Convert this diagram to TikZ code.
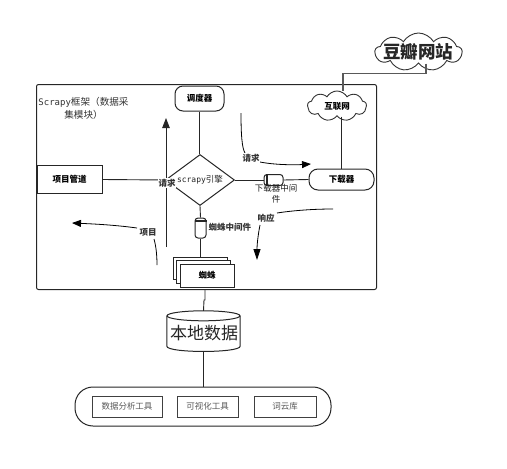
\documentclass[tikz,border=0pt]{standalone}
\usepackage{fontspec}
\setmainfont{Noto Sans CJK SC}
\newfontfamily\latinm{DejaVu Sans Mono}
\usetikzlibrary{shapes.geometric,shapes.symbols,arrows.meta}
\newcommand{\lbsize}{\fontsize{8.5pt}{10pt}\selectfont}
\tikzset{
  every picture/.style={x=1pt,y=-1pt},
  line/.style={draw=black!85,line width=0.9pt},
  boldbox/.style={draw=black!85,line width=1pt,fill=white,font=\lbsize\bfseries,inner sep=0pt},
  lbl/.style={font=\lbsize,inner sep=0.5pt,text=black!80},
  blbl/.style={lbl,fill=white,font=\lbsize\bfseries},
  toolbox/.style={draw=black!75,line width=0.9pt,fill=white,inner sep=0pt,font=\lbsize,text=black!65},
  curve/.style={draw=black,line width=0.8pt},
  head/.style={-{Triangle[length=9pt,width=7pt]}},
  heads/.style={-{Triangle[length=11pt,width=7pt]}},
  cloudn/.style={cloud,cloud puffs=9,cloud puff arc=120,aspect=2,draw=black!80,line width=0.9pt,fill=white,inner sep=0pt},
}
\begin{document}
\begin{tikzpicture}
\useasboundingbox (0,0) rectangle (507,469);
% frame
\node[draw=black!85,line width=1pt,rounded corners=2pt,minimum width=340pt,minimum height=205pt,inner sep=0pt,anchor=north west] (frame) at (36,84) {};
\coordinate (framedb) at (205,289);
\coordinate (jog1) at (205,300);
\coordinate (jog2) at (204,300);
% nodes
\node[boldbox,rounded corners=8pt,minimum width=49pt,minimum height=25pt] (sched) at (199.5,98.5) {调度器};
\node[boldbox,diamond,minimum width=69pt,minimum height=51pt,aspect=1.35,font=\lbsize] (engine) at (200,180) {};
\node[boldbox,minimum width=65pt,minimum height=28pt] (pipe) at (69.5,179.5) {项目管道};
\node[cloudn,minimum width=59pt,minimum height=30pt,font=\lbsize] (net) at (337,106) {};
\node[cloudn,minimum width=87pt,minimum height=38pt] (douban) at (418.5,52) {};
\node[boldbox,rounded corners=9pt,minimum width=65pt,minimum height=21pt] (down) at (341.5,179.5) {下载器};
\node[draw=black!85,line width=1pt,fill=white,rounded corners=3pt,minimum width=19pt,minimum height=11pt,inner sep=0pt] (dmw) at (273.5,180) {};
\node[draw=black!85,line width=1pt,fill=white,rounded corners=3pt,minimum width=11pt,minimum height=20pt,inner sep=0pt] (smw) at (200.5,228) {};
\node[boldbox,minimum width=54pt,minimum height=22pt] (sp3) at (200,268) {};
\node[boldbox,minimum width=54pt,minimum height=23pt] (sp2) at (203,271.5) {};
\node[boldbox,minimum width=54pt,minimum height=23pt] (sp1) at (207,275.5) {蜘蛛};
\node[minimum width=73pt,minimum height=40pt,inner sep=0pt] (db) at (203.5,331) {};
\draw[draw=black!85,line width=1pt,fill=white] ([yshift=-5pt]db.north west) -- ([yshift=5pt]db.south west) .. controls ([yshift=-2pt]db.south west) and ([yshift=-2pt]db.south east) .. ([yshift=5pt]db.south east) -- ([yshift=-5pt]db.north east);
\draw[draw=black!85,line width=1pt,fill=white] ([yshift=-5pt]db.north) ellipse [x radius=36.5pt,y radius=5pt];
\node[draw=black!85,line width=1pt,rounded corners=18pt,minimum width=256pt,minimum height=39pt,inner sep=0pt,fill=white] (tools) at (203,406.5) {};
\node[toolbox,minimum width=70pt,minimum height=21pt] (t1) at (127,406.5) {数据分析工具};
\node[toolbox,minimum width=61pt,minimum height=21pt] (t2) at (207.5,406.5) {可视化工具};
\node[toolbox,minimum width=62pt,minimum height=21pt] (t3) at (285,406.5) {词云库};
% connectors
\draw[line] (sched.south) -- (sched.south |- engine.north);
\draw[line] (pipe.east) -- (engine.west);
\draw[line] (engine.east) -- (dmw.west);
\draw[line] (dmw.east) -- (down.west);
\draw[line] (net.south -| down.north) -- (down.north);
\draw[line] (engine.south) -- (smw.north);
\draw[line] (smw.south) -- (smw.south |- sp3.north);
\draw[draw=black!65,line width=1.3pt] ([xshift=7.5pt]douban.south) -- ++(0,10) -| ([xshift=6pt]net.north);
\draw[line] (framedb) -- (jog1) -- (jog2) -- (db.north);
\draw[line] (db.south) -- (tools.north -| db.south);
% cylinder details
\draw[draw=black!85,line width=0.9pt] ([xshift=3pt]dmw.north west) -- ([xshift=3pt]dmw.south west);
\fill[black!85] ([xshift=2.5pt,yshift=-0.5pt]dmw.north west) rectangle ([xshift=4.5pt,yshift=0.5pt]dmw.south west);
\fill[black!85] ([yshift=-2.5pt]smw.north west) rectangle ([yshift=-4.5pt]smw.north east);
% curved flows
\coordinate (q1) at (241,113);
\coordinate (q2) at (245,153);
\coordinate (q3) at (260,162);
\coordinate (q4) at (311,164);
\draw[curve] (q1) .. controls (241,135) and (242,148) .. (q2);
\draw[curve,head] (q3) .. controls (275,165) and (295,165) .. (q4);
\coordinate (r1) at (333,209);
\coordinate (r2) at (277,213);
\coordinate (r3) at (260,225);
\coordinate (r4) at (257,260);
\draw[curve] (r1) .. controls (310,209) and (290,211) .. (r2);
\draw[curve,heads] (r3) .. controls (258,235) and (257,245) .. (r4);
\coordinate (x1) at (157,265);
\coordinate (x2) at (154,239);
\coordinate (x3) at (137,228);
\coordinate (x4) at (72,223);
\draw[curve] (x1) .. controls (157,255) and (156,246) .. (x2);
\draw[curve,head] (x3) .. controls (115,225) and (95,224) .. (x4);
\coordinate (vs) at (166,247);
\coordinate (ve) at (166,118);
\draw[draw=black!85,line width=0.9pt,-{Triangle[length=10pt,width=7.5pt]}] (vs) -- (ve);
% labels
\node[lbl,font=\lbsize\bfseries,fill=white] (lq0) at (167,183) {请求};
\node[font=\lbsize,inner sep=0pt,text=black!85] (engl) at (200,180) {{\latinm\fontsize{8pt}{10pt}\selectfont scrapy}引擎};
\node[blbl] (lq1) at (251,158) {请求};
\node[blbl] (lr) at (266,218) {响应};
\node[blbl] (lx) at (148,232) {项目};
\node[lbl,align=center,text width=46pt,font=\fontsize{8.5pt}{11pt}\selectfont,inner sep=0pt,text=black!90] (ldm) at (276,193.5) {下载器中间\\件};
\node[lbl,font=\lbsize\bfseries,anchor=west] (lsm) at (208,227) {蜘蛛中间件};
\node[font=\lbsize\bfseries,inner sep=0pt] (netl) at (337,106) {互联网};
\node[font=\fontsize{17.5pt}{20pt}\selectfont\bfseries,inner sep=0pt,text=black!85] (doubl) at (418,52) {豆瓣网站};
\node[font=\fontsize{17pt}{20pt}\selectfont,inner sep=0pt,text=black!85] (dbl) at (204,333) {本地数据};
\node[align=center,inner sep=0pt,text width=98pt,text=black!80,font=\fontsize{9.6pt}{13pt}\selectfont] (title) at (83.5,108) {{\latinm\fontsize{9pt}{13pt}\selectfont Scrapy}框架（数据采\\集模块）};
\end{tikzpicture}
\end{document}
